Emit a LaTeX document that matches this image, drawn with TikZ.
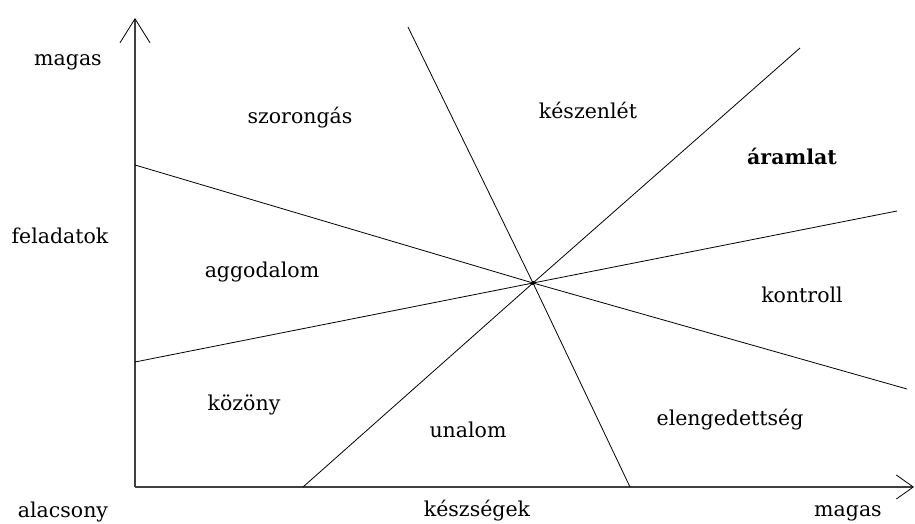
\documentclass[tikz,border=0pt]{standalone}
\usepackage{fontspec}
\setmainfont{DejaVu Serif}
\usetikzlibrary{arrows.meta}
\begin{document}
\begin{tikzpicture}[x=1pt,y=-1pt,
    axis/.style={draw=black!75, line width=1.6pt},
    zone/.style={draw=black, line width=0.8pt},
    lbl/.style={font=\fontsize{20.5}{22}\selectfont, inner sep=0pt}]
    \useasboundingbox (0,0) rectangle (915,524);

    % Axes
    \coordinate (O) at (135,487);
    \coordinate (ytop) at (135,18);
    \coordinate (xend) at (914,487);
    \draw[axis, -{Straight Barb[length=24pt,width=30pt,black,line width=0.8pt]}] (O) -- (ytop);
    \draw[axis, -{Straight Barb[length=17pt,width=24pt,black,line width=0.8pt]}] (O) -- (xend);

    % Zone borders, all through the centre
    \coordinate (C) at (533,283);
    \coordinate (a1) at (135,165);  \coordinate (a2) at (907,389);
    \coordinate (b1) at (135,362);  \coordinate (b2) at (897,211);
    \coordinate (c1) at (303,487);  \coordinate (c2) at (800,48);
    \coordinate (d1) at (408,27);   \coordinate (d2) at (630,487);
    \foreach \p in {a,b,c,d}
        \draw[zone] (\p1) -- (C) -- (\p2);
    \fill (C) circle (2pt);

    % Axis labels
    \node[lbl] (ymax) at (68,62) {magas};
    \node[lbl] (ytitle) at (60,236) {feladatok};
    \node[lbl] (low) at (63,512) {alacsony};
    \node[lbl] (xtitle) at (477,511) {készségek};
    \node[lbl] (xmax) at (848,513) {magas};

    % Zones
    \node[lbl] (szor) at (300,118) {szorongás};
    \node[lbl] (kesz) at (588,110) {készenlét};
    \node[lbl, font=\fontsize{20.5}{22}\selectfont\bfseries] (aram) at (792,156) {áramlat};
    \node[lbl] (aggo) at (262,272) {aggodalom};
    \node[lbl] (kont) at (802,295) {kontroll};
    \node[lbl] (kozo) at (244,405) {közöny};
    \node[lbl] (unal) at (468,430) {unalom};
    \node[lbl] (elen) at (730,420) {elengedettség};
\end{tikzpicture}
\end{document}
